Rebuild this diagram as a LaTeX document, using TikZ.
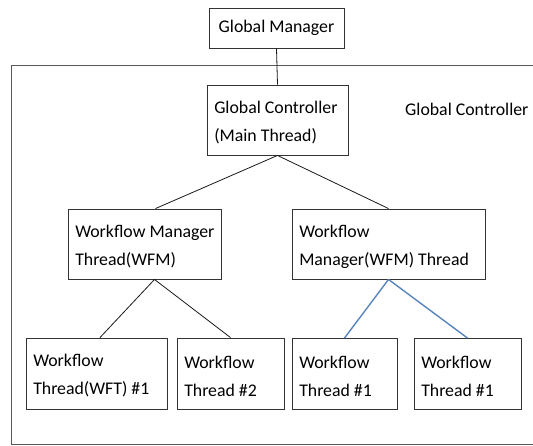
\documentclass[tikz,border=0pt]{standalone}
\usepackage{fontspec}
\setmainfont{Carlito}
\usetikzlibrary{positioning}

\begin{document}
\begin{tikzpicture}[x=1pt, y=-1pt]
    % Khung hình và kiểu dáng
    \useasboundingbox (0,0) rectangle (533,445);
    \definecolor{c_blue}{RGB}{88,132,188}
    \tikzset{
        c_box/.style={draw=black!80, line width=0.9pt, inner sep=0pt},
        c_text/.style={inner xsep=7.5pt, inner ysep=0pt, align=left, yshift=-2.5pt,
            font=\fontsize{17.8}{28}\selectfont},
        c_line/.style={black!90, line width=0.8pt},
        c_blue_line/.style={c_blue, line width=1.4pt},
        c_frame/.style={black!65, line width=1pt}
    }

    % Khung ngoài (Global Controller)
    \draw[c_frame] (533,65) -| (11,444) -- (533,444);

    % Các khối
    \node[c_box, font=\fontsize{17.8}{28}\selectfont, minimum width=135pt, minimum height=40pt] (gm) at (276.5,28) {Global Manager};
    \node[c_box, minimum width=141pt, minimum height=70pt] (gc) at (277.5,120) {};
    \node[c_text, right=0pt of gc.west] (gctext) {Global Controller\\(Main Thread)};
    \node[c_text, anchor=base west, inner sep=0pt, yshift=2.5pt] (gclabel) at (405,115) {Global Controller};

    \node[c_box, minimum width=153pt, minimum height=70pt] (wfmA) at (144.5,244) {};
    \node[c_text, right=0pt of wfmA.west] (wfmAtext) {Workflow Manager\\Thread(WFM)};
    \node[c_box, minimum width=193pt, minimum height=70pt] (wfmB) at (388.5,244) {};
    \node[c_text, right=0pt of wfmB.west] (wfmBtext) {Workflow\\Manager(WFM) Thread};

    \node[c_box, minimum width=141pt, minimum height=71pt] (wftA) at (96.5,373.5) {};
    \node[c_text, right=0pt of wftA.west] (wftAtext) {Workflow\\Thread(WFT) \#1};
    \node[c_box, minimum width=107pt, minimum height=71pt] (wftB) at (230.5,373.5) {};
    \node[c_text, right=0pt of wftB.west] (wftBtext) {Workflow\\Thread \#2};
    \node[c_box, minimum width=105pt, minimum height=71pt] (wftC) at (344.5,374) {};
    \node[c_text, right=0pt of wftC.west] (wftCtext) {Workflow\\Thread \#1};
    \node[c_box, minimum width=107pt, minimum height=71pt] (wftD) at (467.5,374) {};
    \node[c_text, right=0pt of wftD.west] (wftDtext) {Workflow\\Thread \#1};

    % Các đường nối
    \draw[c_line] (gm.south) -- (gc.north);
    \draw[c_line] (gc.south) -- ([xshift=11pt]wfmA.north);
    \draw[c_line] (gc.south) -- (wfmB.north);
    \draw[c_line] ([xshift=10pt]wfmA.south) -- ([xshift=3.5pt]wftA.north);
    \draw[c_line] ([xshift=10pt]wfmA.south) -- (wftB.north);
    \draw[c_blue_line] (wfmB.south) -- (wftC.north);
    \draw[c_blue_line] (wfmB.south) -- (wftD.north);
\end{tikzpicture}
\end{document}
